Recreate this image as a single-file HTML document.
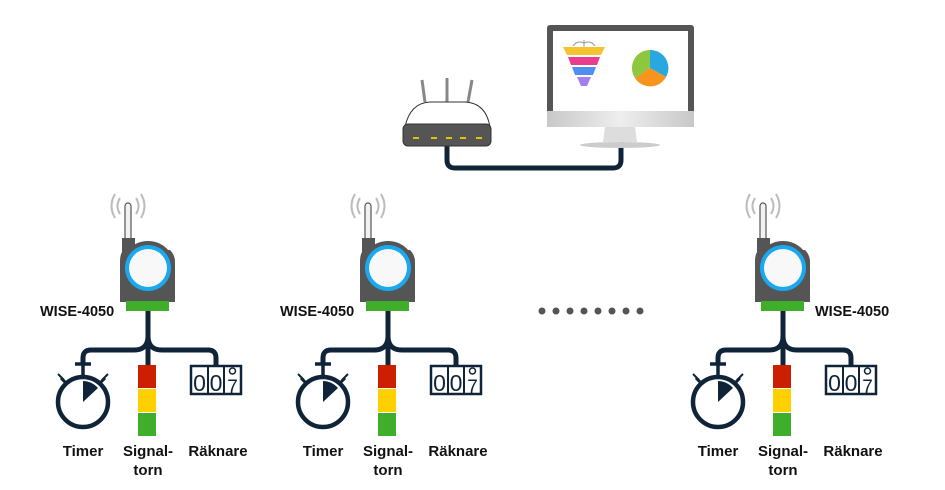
<!DOCTYPE html>
<html><head><meta charset="utf-8"><style>
html,body{margin:0;padding:0;background:#fff}
svg{display:block}
text{font-family:"Liberation Sans",sans-serif;font-weight:bold;fill:#111}
</style></head><body>
<svg width="945" height="490" viewBox="0 0 945 490" xmlns="http://www.w3.org/2000/svg">
<defs>
<linearGradient id="chin" x1="0" y1="0" x2="1" y2="0"><stop offset="0" stop-color="#c8c8c8"/><stop offset="0.5" stop-color="#eee"/><stop offset="1" stop-color="#c8c8c8"/></linearGradient>
</defs>
<path d="M447 140 V160 Q447 168 455 168 H613 Q621 168 621 160 V140" fill="none" stroke="#0f2438" stroke-width="5"/>
<g stroke="#333" stroke-width="1">
<path d="M425 102 L422 80" stroke="#888" stroke-width="3"/>
<path d="M447 102 L447 78" stroke="#888" stroke-width="3"/>
<path d="M468 102 L472 80" stroke="#888" stroke-width="3"/>
<path d="M405 127 Q410 103 430 102 L465 102 Q486 103 490 127 Z" fill="#fff"/>
<rect x="403" y="124" width="88" height="22" rx="5" fill="#555"/>
</g>
<g fill="#e8c200"><rect x="413" y="137" width="6" height="2"/><rect x="431" y="137" width="6" height="2"/><rect x="446" y="137" width="6" height="2"/><rect x="460" y="137" width="6" height="2"/><rect x="476" y="137" width="6" height="2"/></g>
<rect x="547" y="25" width="147" height="102" rx="3" fill="#555"/>
<rect x="553" y="31" width="135" height="80" fill="#fff"/>
<rect x="547" y="111" width="147" height="16" fill="url(#chin)"/>
<path d="M605 127 L635 127 L637 142 L603 142 Z" fill="#ddd"/>
<ellipse cx="620" cy="145" rx="40" ry="3" fill="#ccc"/>
<path d="M563 47 L605 47 L601 55 L567 55 Z" fill="#f4c430"/>
<path d="M568 57 L600 57 L597 65 L571 65 Z" fill="#e83e8c"/>
<path d="M572 67 L596 67 L593 75 L575 75 Z" fill="#4f8ff0"/>
<path d="M577 77 L591 77 L587 86 L581 86 Z" fill="#a57ef0"/>
<path d="M584 47 V40 M573 46 Q577 40 584 43 M595 46 Q591 40 584 43" stroke="#999" fill="none" stroke-width="1"/>
<path d="M650 68 L650 50 A18 18 0 0 1 666 77 Z" fill="#29a8e0"/>
<path d="M650 68 L666 77 A18 18 0 0 1 635 78 Z" fill="#f7941d"/>
<path d="M650 68 L635 78 A18 18 0 0 1 650 50 Z" fill="#8dc63f"/>

<g fill="#555"><circle cx="542" cy="311" r="3.5"/><circle cx="556" cy="311" r="3.5"/><circle cx="570" cy="311" r="3.5"/><circle cx="584" cy="311" r="3.5"/><circle cx="598" cy="311" r="3.5"/><circle cx="612" cy="311" r="3.5"/><circle cx="626" cy="311" r="3.5"/><circle cx="640" cy="311" r="3.5"/></g>

<g id="s1">
<g fill="none" stroke="#bbb" stroke-width="2"><path d="M120 198 Q115 206 120 214"/><path d="M115 194 Q108 206 115 218"/><path d="M136 198 Q141 206 136 214"/><path d="M141 194 Q148 206 141 218"/></g>
<rect x="125" y="203" width="6" height="38" rx="3" fill="#f2f2f2" stroke="#555" stroke-width="1.2"/>
<rect x="122" y="238" width="13" height="14" fill="#555"/>
<path d="M126 250 H170 Q175 255 175 262 V302 H120 V262 Q120 250 126 250 Z" fill="#555"/>
<circle cx="148" cy="268" r="27" fill="#555"/>
<circle cx="148" cy="268" r="23" fill="#1aa9f0"/>
<circle cx="148" cy="268" r="19" fill="#f8f8f8"/>
<rect x="126" y="301" width="43" height="10" fill="#3fae2a"/>
<g fill="none" stroke="#0f2438" stroke-width="5">
<path d="M148 311 V366"/>
<path d="M148 336 Q148 350 134 350 H91 Q83 350 83 358 V364"/>
<path d="M148 336 Q148 350 162 350 H208 Q216 350 216 358 V366"/>
</g>
<rect x="138" y="365" width="18" height="23" fill="#cc1f00"/>
<rect x="138" y="389" width="18" height="23" fill="#ffd000"/>
<rect x="138" y="413" width="18" height="23" fill="#3fae2a"/>
<g stroke="#0f2438" fill="none" stroke-width="4.5">
<circle cx="83" cy="402" r="25"/>
<path d="M75 364 H91 M83 364 V377" stroke-width="3.5"/>
<path d="M61 378 L67 384 M105 378 L99 384" stroke-width="3"/>
<path d="M58 374 L64 380 M108 374 L102 380" stroke-width="2"/>
</g>
<path d="M83 402 V381 A21 21 0 0 1 98 388 Z" fill="#0f2438"/>
<rect x="191" y="366" width="50" height="28" fill="#fff" stroke="#0f2438" stroke-width="2.5"/>
<path d="M208 366 V394 M224 366 V394" stroke="#0f2438" stroke-width="2"/>
<text x="199.5" y="391" font-size="23" font-weight="normal" text-anchor="middle" style="fill:#0f2438;font-weight:normal">0</text>
<text x="216" y="391" font-size="23" text-anchor="middle" style="fill:#0f2438;font-weight:normal">0</text>
<text x="232.5" y="393" font-size="19" text-anchor="middle" style="fill:#0f2438;font-weight:normal">7</text>
<circle cx="232.5" cy="371" r="3" fill="none" stroke="#0f2438" stroke-width="1.5"/>
<text x="83" y="456" font-size="15" text-anchor="middle">Timer</text>
<text x="148" y="456" font-size="15" text-anchor="middle">Signal-</text>
<text x="148" y="475" font-size="15" text-anchor="middle">torn</text>
<text x="218" y="456" font-size="15" text-anchor="middle">Räknare</text>
</g>
<text x="40" y="316" font-size="14.5">WISE-4050</text>
<text x="280" y="316" font-size="14.5">WISE-4050</text>
<text x="815" y="316" font-size="14.5">WISE-4050</text>
<use href="#s1" transform="translate(240,0)"/>
<use href="#s1" transform="translate(635,0)"/>
</svg>
</body></html>
